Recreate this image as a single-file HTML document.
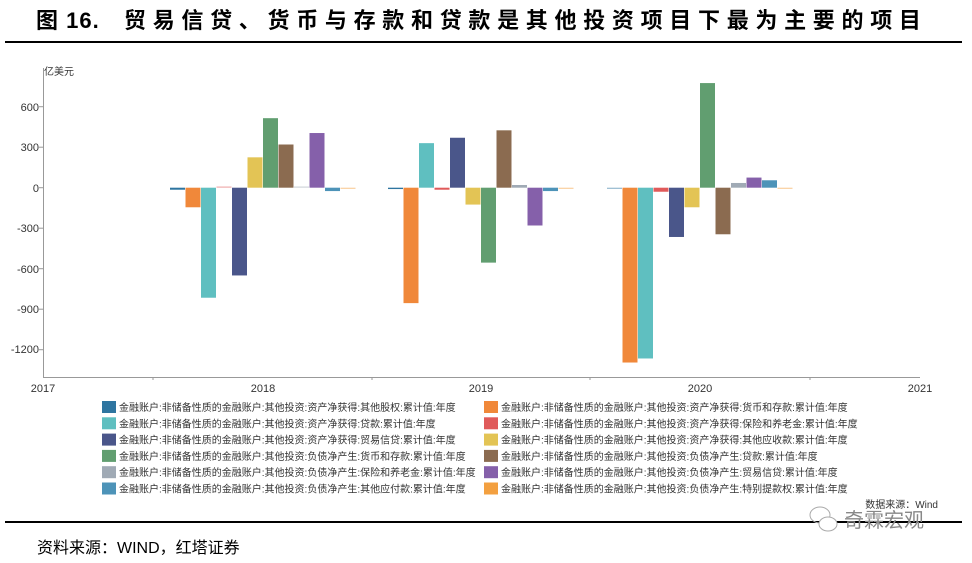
<!DOCTYPE html>
<html><head><meta charset="utf-8"><style>
body{margin:0;background:#fff;width:972px;height:563px;overflow:hidden;font-family:"Liberation Sans","Noto Sans CJK SC",sans-serif}
svg{position:absolute;left:0;top:0}
</style></head><body>
<svg id="s" width="972" height="563" xmlns="http://www.w3.org/2000/svg">
<text x="36" y="28" font-size="22" font-weight="bold" font-family="'Liberation Sans','Noto Sans CJK SC',sans-serif"><tspan letter-spacing="1">图 16. </tspan><tspan x="124" letter-spacing="6.7">贸易信贷、货币与存款和贷款是其他投资项目下最为主要的项目</tspan></text>
<rect x="5" y="41" width="957" height="2" fill="#000"/>
<rect x="5" y="521" width="957" height="2" fill="#000"/>
<text x="37" y="553" font-size="16" font-family="'Liberation Sans','Noto Sans CJK SC',sans-serif">资料来源：WIND，红塔证券</text>
<text x="44" y="75" font-size="10" fill="#333">亿美元</text>
<g font-size="11" fill="#333" text-anchor="end">
<text x="39" y="111">600</text><text x="39" y="151">300</text><text x="39" y="192">0</text>
<text x="39" y="232">-300</text><text x="39" y="273">-600</text><text x="39" y="313">-900</text><text x="39" y="353">-1200</text>
</g>
<g stroke="#999" stroke-width="1">
<line x1="43.5" y1="68" x2="43.5" y2="377"/><line x1="43" y1="377.5" x2="920" y2="377.5"/>
<line x1="39" y1="106.7" x2="43" y2="106.7"/><line x1="39" y1="147.2" x2="43" y2="147.2"/><line x1="39" y1="187.7" x2="43" y2="187.7"/><line x1="39" y1="228.2" x2="43" y2="228.2"/><line x1="39" y1="268.7" x2="43" y2="268.7"/><line x1="39" y1="309.2" x2="43" y2="309.2"/><line x1="39" y1="349.7" x2="43" y2="349.7"/>
<line x1="153" y1="377" x2="153" y2="380"/><line x1="372" y1="377" x2="372" y2="380"/><line x1="590" y1="377" x2="590" y2="380"/><line x1="810" y1="377" x2="810" y2="380"/>
</g>
<g font-size="11" fill="#333" text-anchor="middle">
<text x="43" y="392">2017</text><text x="263" y="392">2018</text><text x="481" y="392">2019</text><text x="700" y="392">2020</text><text x="920" y="392">2021</text>
</g>
<g id="bars"></g>
<g id="leg" font-size="10" fill="#333"></g>
<text x="938" y="508" font-size="10" fill="#333" text-anchor="end">数据来源：Wind</text>
<text x="844" y="527" font-size="20" fill="#888">奇霖宏观</text>
<ellipse cx="820" cy="515" rx="10" ry="8" fill="none" stroke="#aaa"/><ellipse cx="828" cy="524" rx="9" ry="7" fill="#fff" stroke="#aaa"/>
</svg>
<script>
var C=["#2e75a0","#f0883a","#5fbfc0","#e05a5a","#4a568a","#e3c455","#619e70","#8b6b50","#a0aab5","#8560aa","#4d93b8","#f3a040"];
var V=[[-15,-145,-815,5,-650,225,515,320,5,405,-25,-5],[-10,-855,330,-15,370,-125,-555,425,20,-280,-25,-5],[-5,-1295,-1265,-30,-365,-145,775,-345,35,75,55,-5]];
var X=[263,481,700],g=document.getElementById('bars'),h='';
for(var i=0;i<3;i++)for(var j=0;j<12;j++){var v=V[i][j],x=X[i]-93+j*15.5,y0=187.7,hh=Math.max(Math.abs(v)*0.135,1.2);var y=v>0?y0-hh:y0;h+='<rect x="'+x+'" y="'+y+'" width="15" height="'+hh+'" fill="'+C[j]+'" '+(Math.abs(v)<10?'opacity="0.5"':'')+'/>';}
g.innerHTML=h;
var L=["资产净获得:其他股权","资产净获得:货币和存款","资产净获得:贷款","资产净获得:保险和养老金","资产净获得:贸易信贷","资产净获得:其他应收款","负债净产生:货币和存款","负债净产生:贷款","负债净产生:保险和养老金","负债净产生:贸易信贷","负债净产生:其他应付款","负债净产生:特别提款权"];
var s='';for(var k=0;k<12;k++){var col=k%2,row=Math.floor(k/2),x=col?484:102,y=401+row*16.3;s+='<rect x="'+x+'" y="'+y+'" width="14" height="12" fill="'+C[k]+'"/><text x="'+(x+17)+'" y="'+(y+10)+'">金融账户:非储备性质的金融账户:其他投资:'+L[k]+':累计值:年度</text>';}
document.getElementById('leg').innerHTML=s;
</script>
</body></html>
